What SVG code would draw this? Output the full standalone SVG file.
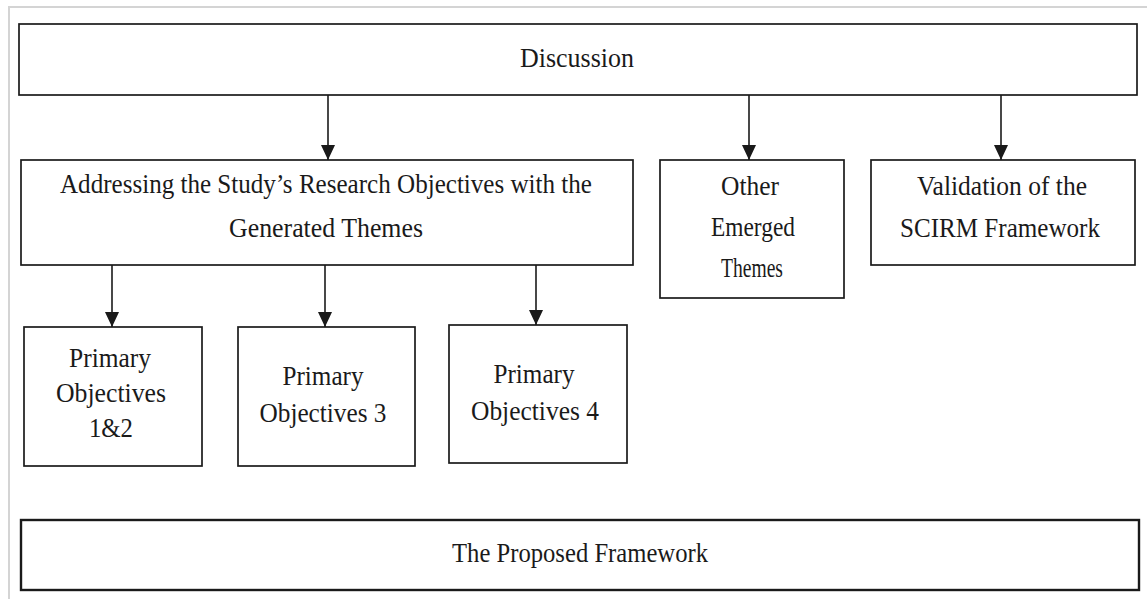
<svg xmlns="http://www.w3.org/2000/svg" width="1147" height="599" viewBox="0 0 1147 599">
  <style>
    .box { fill: #ffffff; stroke: #1a1a1a; stroke-width: 1.7; }
    .box-heavy { fill: #ffffff; stroke: #1a1a1a; stroke-width: 2.4; }
    .lbl { font-family: "Liberation Serif", "DejaVu Serif", "Times New Roman", serif; font-size: 28px; fill: #1a1a1a; text-anchor: middle; }
    .edge { stroke: #1a1a1a; stroke-width: 1.6; fill: none; marker-end: url(#arrow); }
    .frame { stroke: #d4d4d4; stroke-width: 2; fill: none; }
  </style>
  <defs>
    <!-- filled triangular arrowhead, tip at the end of the line -->
    <marker id="arrow" markerUnits="userSpaceOnUse" markerWidth="16" markerHeight="14" refX="15" refY="7" orient="auto" viewBox="0 0 16 14">
      <path d="M0,0 L15,7 L0,14 Z" fill="#1a1a1a"/>
    </marker>
  </defs>

  <rect width="1147" height="599" fill="#ffffff"/>
  <!-- page frame -->
  <path class="frame" d="M9,599 V7 H1147"/>

  <g id="node-discussion">
    <rect class="box" x="19" y="24" width="1118" height="71"/>
    <text class="lbl" x="577" y="67" textLength="114" lengthAdjust="spacingAndGlyphs">Discussion</text>
  </g>

  <g id="node-addressing">
    <rect class="box" x="21" y="160" width="612" height="105"/>
    <text class="lbl" x="326" y="193" textLength="532" lengthAdjust="spacingAndGlyphs">Addressing the Study’s Research Objectives with the</text>
    <text class="lbl" x="326" y="237" textLength="194" lengthAdjust="spacingAndGlyphs">Generated Themes</text>
  </g>

  <g id="node-other">
    <rect class="box" x="660" y="160" width="184" height="138"/>
    <text class="lbl" x="750" y="195" textLength="58" lengthAdjust="spacingAndGlyphs">Other</text>
    <text class="lbl" x="753" y="236" textLength="84" lengthAdjust="spacingAndGlyphs">Emerged</text>
    <text class="lbl" x="752" y="277" textLength="62" lengthAdjust="spacingAndGlyphs">Themes</text>
  </g>

  <g id="node-validation">
    <rect class="box" x="871" y="160" width="264" height="105"/>
    <text class="lbl" x="1002" y="195" textLength="170" lengthAdjust="spacingAndGlyphs">Validation of the</text>
    <text class="lbl" x="1000" y="237" textLength="200" lengthAdjust="spacingAndGlyphs">SCIRM Framework</text>
  </g>

  <g id="node-obj12">
    <rect class="box" x="24" y="327" width="178" height="139"/>
    <text class="lbl" x="110" y="367" textLength="82" lengthAdjust="spacingAndGlyphs">Primary</text>
    <text class="lbl" x="111" y="402" textLength="110" lengthAdjust="spacingAndGlyphs">Objectives</text>
    <text class="lbl" x="111" y="437" textLength="44" lengthAdjust="spacingAndGlyphs">1&amp;2</text>
  </g>

  <g id="node-obj3">
    <rect class="box" x="238" y="327" width="177" height="139"/>
    <text class="lbl" x="323" y="385" textLength="81" lengthAdjust="spacingAndGlyphs">Primary</text>
    <text class="lbl" x="323" y="422" textLength="127" lengthAdjust="spacingAndGlyphs">Objectives 3</text>
  </g>

  <g id="node-obj4">
    <rect class="box" x="449" y="325" width="178" height="138"/>
    <text class="lbl" x="534" y="383" textLength="81" lengthAdjust="spacingAndGlyphs">Primary</text>
    <text class="lbl" x="535" y="420" textLength="128" lengthAdjust="spacingAndGlyphs">Objectives 4</text>
  </g>

  <g id="node-framework">
    <rect class="box-heavy" x="21" y="520" width="1118" height="70"/>
    <text class="lbl" x="580" y="562" textLength="256" lengthAdjust="spacingAndGlyphs">The Proposed Framework</text>
  </g>

  <g id="connectors">
    <line class="edge" x1="328" y1="95" x2="328" y2="160"/>
    <line class="edge" x1="749" y1="95" x2="749" y2="160"/>
    <line class="edge" x1="1001" y1="95" x2="1001" y2="160"/>
    <line class="edge" x1="112" y1="265" x2="112" y2="327"/>
    <line class="edge" x1="325" y1="265" x2="325" y2="327"/>
    <line class="edge" x1="536" y1="265" x2="536" y2="325"/>
  </g>
</svg>
